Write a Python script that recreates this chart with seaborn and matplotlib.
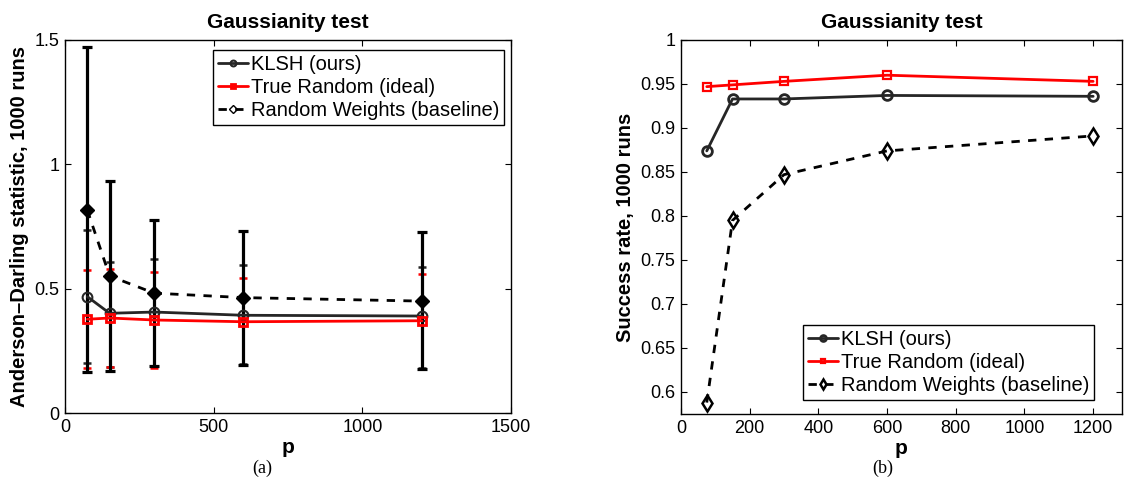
import matplotlib
matplotlib.use("Agg")
import matplotlib.pyplot as plt
import seaborn as sns
import numpy as np
import pandas as pd

# ---------------- data ----------------
p = [75, 150, 300, 600, 1200]

# (a) Anderson-Darling statistic
ad_klsh = [0.468, 0.401, 0.406, 0.393, 0.390]
ad_klsh_lo = [0.200, 0.186, 0.190, 0.197, 0.181]
ad_klsh_hi = [0.736, 0.606, 0.618, 0.596, 0.587]

ad_true = [0.377, 0.382, 0.374, 0.367, 0.371]
ad_true_lo = [0.180, 0.186, 0.180, 0.193, 0.177]
ad_true_hi = [0.575, 0.579, 0.566, 0.543, 0.560]

ad_rw = [0.816, 0.551, 0.482, 0.464, 0.450]
ad_rw_lo = [0.166, 0.170, 0.190, 0.193, 0.177]
ad_rw_hi = [1.473, 0.933, 0.776, 0.730, 0.726]

# (b) success rate
sr_klsh = [0.874, 0.933, 0.933, 0.937, 0.936]
sr_true = [0.947, 0.949, 0.953, 0.960, 0.953]
sr_rw = [0.588, 0.795, 0.847, 0.874, 0.891]

labels = ["KLSH (ours)", "True Random (ideal)", "Random Weights (baseline)"]
left_xticks = [0, 500, 1000, 1500]
left_yticks = [0, 0.5, 1, 1.5]
right_xticks = [0, 200, 400, 600, 800, 1000, 1200]
right_yticks = [0.6, 0.65, 0.7, 0.75, 0.8, 0.85, 0.9, 0.95, 1]

# ---------------- style ----------------
sns.set_style("ticks")
plt.rcParams["font.family"] = ["Liberation Sans", "DejaVu Sans"]
plt.rcParams["text.color"] = "black"
plt.rcParams["axes.labelcolor"] = "black"
plt.rcParams["xtick.color"] = "black"
plt.rcParams["ytick.color"] = "black"
plt.rcParams["xtick.direction"] = "in"
plt.rcParams["ytick.direction"] = "in"
plt.rcParams["xtick.top"] = True
plt.rcParams["ytick.right"] = True
plt.rcParams["axes.linewidth"] = 1.0

fig = plt.figure(figsize=(11.25, 4.88), dpi=100)
axL = fig.add_axes([65/1125, 1-413/488, (511-65)/1125, (413-40)/488])
axR = fig.add_axes([681/1125, 1-414/488, (1122-681)/1125, (414-40)/488])

KC = "#262626"
RC = "#ff0000"

def tick_fmt(v):
    return "%g" % v

# ---------------- left panel ----------------
df_l = pd.DataFrame({"p": p, "klsh": ad_klsh, "true": ad_true, "rw": ad_rw})

axL.errorbar(p, ad_klsh, yerr=[np.array(ad_klsh) - np.array(ad_klsh_lo),
                                np.array(ad_klsh_hi) - np.array(ad_klsh)],
             fmt="none", ecolor=KC, elinewidth=1.8, capsize=3, capthick=1.8, zorder=2)
axL.errorbar(p, ad_true, yerr=[np.array(ad_true) - np.array(ad_true_lo),
                                np.array(ad_true_hi) - np.array(ad_true)],
             fmt="none", ecolor=RC, elinewidth=1.8, capsize=3, capthick=1.8, zorder=2.1)
axL.errorbar(p, ad_rw, yerr=[np.array(ad_rw) - np.array(ad_rw_lo),
                              np.array(ad_rw_hi) - np.array(ad_rw)],
             fmt="none", ecolor="black", elinewidth=2.3, capsize=3.5, capthick=2.3, zorder=2.2)

sns.lineplot(data=df_l, x="p", y="klsh", ax=axL, color=KC, lw=2, marker="o",
             markersize=7, markerfacecolor="none", markeredgecolor=KC, markeredgewidth=1.5,
             label=labels[0], zorder=3)
sns.lineplot(data=df_l, x="p", y="true", ax=axL, color=RC, lw=2, marker="s",
             markersize=6, markerfacecolor="none", markeredgecolor=RC, markeredgewidth=2,
             label=labels[1], zorder=3.1)
sns.lineplot(data=df_l, x="p", y="rw", ax=axL, color="black", lw=2, ls=(0, (3, 3)), marker="D",
             markersize=7, markerfacecolor="black", markeredgecolor="black", markeredgewidth=1,
             label=labels[2], zorder=3.2)

axL.set_xlim(0, 1500)
axL.set_ylim(0, 1.5)
axL.set_xticks(left_xticks)
axL.set_xticklabels([tick_fmt(v) for v in left_xticks])
axL.set_yticks(left_yticks)
axL.set_yticklabels([tick_fmt(v) for v in left_yticks])
axL.set_title("Gaussianity test", fontsize=15, fontweight="bold", pad=9)
axL.set_xlabel("p", fontsize=15, fontweight="bold", labelpad=2)
axL.set_ylabel("Anderson\u2013Darling statistic, 1000 runs", fontsize=14.5, fontweight="bold", labelpad=4)

leg_kw = dict(fontsize=14.5, frameon=True, fancybox=False, edgecolor="black", handlelength=1.5,
              handletextpad=0.15, borderpad=0.25, labelspacing=0.2, markerscale=0.6,
              borderaxespad=0, framealpha=1)
legL = axL.legend(loc="upper right", bbox_to_anchor=(0.985, 0.974), **leg_kw)
legL.get_frame().set_linewidth(1.0)
for h in legL.legend_handles:
    h.set_markerfacecolor("none")

# ---------------- right panel ----------------
df_r = pd.DataFrame({"p": p, "klsh": sr_klsh, "true": sr_true, "rw": sr_rw})
sns.lineplot(data=df_r, x="p", y="klsh", ax=axR, color=KC, lw=2, marker="o",
             markersize=7, markerfacecolor="none", markeredgecolor=KC, markeredgewidth=2,
             label=labels[0])
sns.lineplot(data=df_r, x="p", y="true", ax=axR, color=RC, lw=2, marker="s",
             markersize=6, markerfacecolor="none", markeredgecolor=RC, markeredgewidth=1.6,
             label=labels[1])
sns.lineplot(data=df_r, x="p", y="rw", ax=axR, color="black", lw=2, ls=(0, (3, 3)), marker="d",
             markersize=8, markerfacecolor="none", markeredgecolor="black", markeredgewidth=1.8,
             label=labels[2])

axR.set_xlim(0, 1284)
axR.set_ylim(0.575, 1.0)
axR.set_xticks(right_xticks)
axR.set_xticklabels([tick_fmt(v) for v in right_xticks])
axR.set_yticks(right_yticks)
axR.set_yticklabels([tick_fmt(v) for v in right_yticks])
axR.set_title("Gaussianity test", fontsize=15, fontweight="bold", pad=9)
axR.set_xlabel("p", fontsize=15, fontweight="bold", labelpad=2)
axR.set_ylabel("Success rate, 1000 runs", fontsize=14.5, fontweight="bold", labelpad=4)
legR = axR.legend(loc="lower right", bbox_to_anchor=(0.937, 0.037), **leg_kw)
legR.get_frame().set_linewidth(1.0)
legR.legend_handles[0].set_markerfacecolor("none")

for ax in (axL, axR):
    ax.tick_params(axis="both", which="major", labelsize=13, length=4, width=0.8,
                   direction="in", top=True, right=True, pad=4, colors="black")
    for s in ax.spines.values():
        s.set_visible(True)
        s.set_color("black")
        s.set_linewidth(1.0)
    ax.grid(False)

fig.text(262/1125, 1-468/488, "(a)", ha="center", va="center", fontsize=13,
         family=["Liberation Serif", "DejaVu Serif"])
fig.text(883/1125, 1-468/488, "(b)", ha="center", va="center", fontsize=13,
         family=["Liberation Serif", "DejaVu Serif"])

fig.savefig("out.png", dpi=100)
